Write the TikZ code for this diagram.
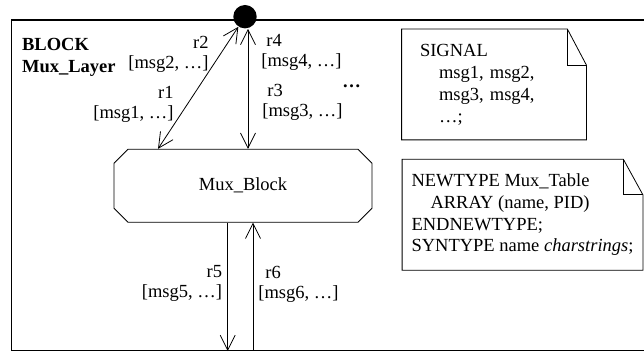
\documentclass[tikz,border=0pt]{standalone}
\usepackage{fontspec}
\setmainfont{Liberation Serif}
\usetikzlibrary{arrows.meta,shapes.misc}

\begin{document}
\begin{tikzpicture}[x=1pt, y=-1pt, line width=0.8pt,
    >={Straight Barb[length=15pt, width=15pt]},
    font=\fontsize{18.5}{22}\selectfont]
    \tikzstyle{frame} = [draw, line width=1.1pt, inner sep=0pt]
    \tikzstyle{block} = [draw, chamfered rectangle, chamfered rectangle xsep=19pt,
      minimum width=258pt, minimum height=73pt]
    \tikzstyle{note} = [align=left, inner sep=0pt, minimum height=110pt]
    \tikzstyle{lbl} = [inner sep=0pt, font=\fontsize{18.5}{20}\selectfont]
    \useasboundingbox (0,0) rectangle (644,352);
    \node[frame, minimum width=632.8pt, minimum height=330.5pt] (layer) at (327.9,185.25) {};
    \node[anchor=north west, inner sep=0pt, align=left,
      font=\fontsize{18.5}{22}\selectfont\bfseries] (title) at (21.7,38.3) {BLOCK\\Mux\_Layer};
    \node[circle, fill, minimum size=23.4pt, inner sep=0pt] (env) at (245,16.7) {};
    \node[block] (blk) at (243,185.75) {Mux\_Block};
    \draw[<->] (env) -- ([xshift=-85pt]blk.north);
    \draw[<->] ([xshift=3pt]env.south) -- ([xshift=5pt]blk.north);
    \draw[->] ([xshift=-15.3pt]blk.south) -- ([xshift=-15.3pt]blk.south |- layer.south);
    \draw[<-] ([xshift=10pt]blk.south) -- ([xshift=10pt]blk.south |- layer.south);
    \node[lbl, anchor=north east, align=right] (r2) at (209,35.8) {r2\\{[}msg2, …]};
    \node[lbl, anchor=north east, align=right] (r1) at (174,85.8) {r1\\{[}msg1, …]};
    \node[lbl, anchor=north west, align=left] (r4) at (261,33.5) {\hspace*{5pt}r4\\{[}msg4, …]};
    \node[lbl, anchor=north west, align=left] (r3) at (262,83.5) {\hspace*{5pt}r3\\{[}msg3, …]};
    \node[lbl, anchor=north east, align=right] (r5) at (222.5,265.2) {r5\\{[}msg5, …]};
    \node[lbl, anchor=north west, align=left] (r6) at (258,265.8) {\hspace*{7pt}r6\\{[}msg6, …]};
    \node[inner sep=0pt, font=\fontsize{18.5}{22}\selectfont\bfseries, anchor=base] (more) at (351.5,87.5) {…};
    \node[note, inner xsep=18pt, text width=148pt] (signote) at (494,84.5)
      {SIGNAL\\\hspace*{19pt}msg1, msg2,\\\hspace*{19pt}msg3, msg4,\\\hspace*{19pt}…;};
    \draw (signote.south west) -- (signote.north west) -- ([xshift=-19pt]signote.north east)
      -- ([yshift=-36pt]signote.north east) -- (signote.south east) -- cycle;
    \draw ([xshift=-19pt]signote.north east) |- ([yshift=-36pt]signote.north east);
    \node[note, minimum width=240pt, font=\fontsize{18.5}{21.7}\selectfont] (typenote) at (522.5,214.75)
      {NEWTYPE Mux\_Table\\\hspace*{19pt}ARRAY (name, PID)\\ENDNEWTYPE;\\SYNTYPE name \textit{charstrings};};
    \draw (typenote.south west) -- (typenote.north west) -- ([xshift=-19.5pt]typenote.north east)
      -- ([yshift=-35.5pt]typenote.north east) -- (typenote.south east) -- cycle;
    \draw ([xshift=-19.5pt]typenote.north east) |- ([yshift=-35.5pt]typenote.north east);
\end{tikzpicture}
\end{document}
